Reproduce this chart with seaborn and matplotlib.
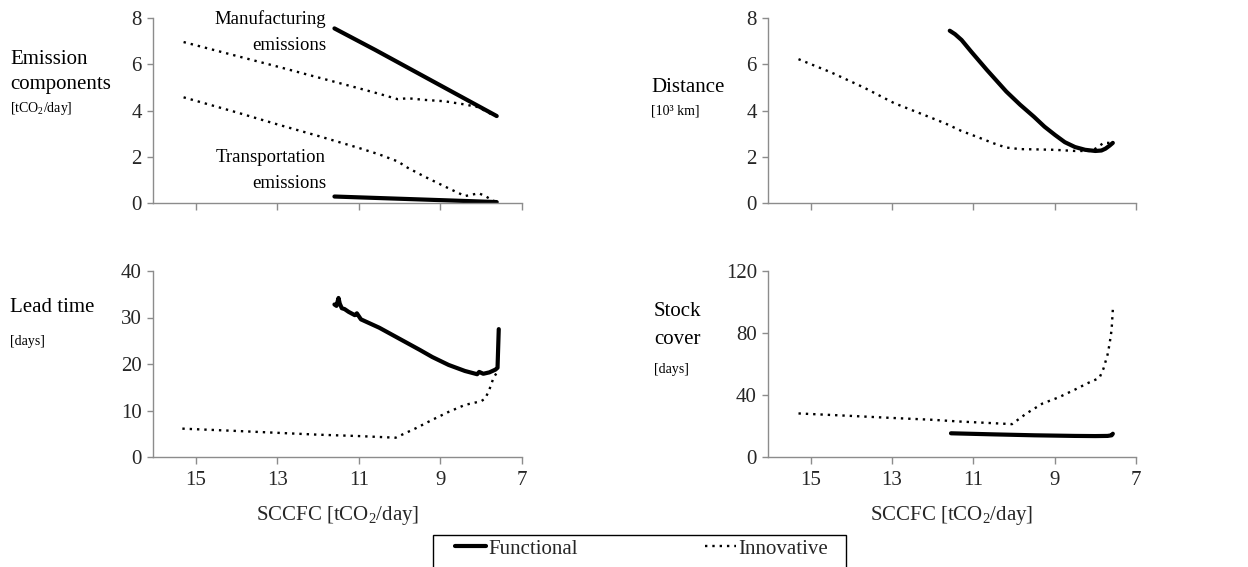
import matplotlib
matplotlib.use("Agg")
import matplotlib.pyplot as plt
import seaborn as sns
from matplotlib.lines import Line2D
from matplotlib.patches import Rectangle

# ---------------- data ----------------
# Emission components [tCO2/day]
func_em_x = [11.6, 10.6, 9.6, 8.6, 7.62]
func_manu = [7.55, 6.62, 5.66, 4.70, 3.76]
func_trans = [0.28, 0.22, 0.16, 0.10, 0.04]

innov_em_x = [15.3, 14.0, 13.0, 12.0, 11.0, 10.5, 10.05, 9.8, 9.4, 8.9, 8.4, 8.06, 7.9, 7.73, 7.62]
innov_manu = [6.96, 6.36, 5.90, 5.43, 4.96, 4.72, 4.49, 4.53, 4.46, 4.40, 4.26, 4.14, 3.98, 3.82, 3.75]
innov_trans = [4.57, 3.92, 3.40, 2.90, 2.38, 2.10, 1.80, 1.52, 1.15, 0.72, 0.30, 0.42, 0.30, 0.12, 0.04]

# Distance [10^3 km]
func_dist_x = [11.58, 11.45, 11.29, 11.05, 10.67, 10.19, 9.85, 9.51, 9.25, 8.99, 8.75, 8.5,
               8.25, 8.0, 7.85, 7.75, 7.65, 7.57]
func_dist = [7.45, 7.30, 7.05, 6.54, 5.76, 4.82, 4.25, 3.73, 3.30, 2.94, 2.63, 2.42,
             2.30, 2.25, 2.27, 2.35, 2.48, 2.60]
innov_dist_x = [15.3, 14.5, 13.7, 12.95, 12.2, 11.7, 11.3, 10.85, 10.5, 10.2, 9.85, 9.5, 9.0,
                8.5, 8.1, 7.95, 7.8, 7.65]
innov_dist = [6.22, 5.65, 5.00, 4.32, 3.80, 3.45, 3.12, 2.82, 2.58, 2.40, 2.33, 2.32, 2.30,
              2.25, 2.25, 2.40, 2.60, 2.60]

# Lead time [days]
func_lead_x = [11.6, 11.55, 11.5, 11.47, 11.42, 11.35, 11.25, 11.1, 11.05, 10.95, 10.8, 10.5,
               10.0, 9.5, 9.2, 8.8, 8.4, 8.1, 8.05, 7.95, 7.8, 7.65, 7.6, 7.57]
func_lead = [32.8, 32.5, 34.2, 33.0, 32.0, 31.8, 31.2, 30.5, 30.9, 29.6, 29.0, 27.8,
             25.4, 23.0, 21.5, 19.8, 18.5, 17.8, 18.3, 17.9, 18.2, 18.8, 19.2, 27.5]
innov_lead_x = [15.33, 14.0, 13.0, 12.0, 11.0, 10.1, 9.6, 9.2, 8.8, 8.4, 8.0, 7.9, 7.8, 7.7, 7.6]
innov_lead = [6.1, 5.6, 5.2, 4.8, 4.5, 4.15, 6.2, 8.0, 9.7, 11.2, 12.0, 12.6, 14.5, 17.0, 18.4]

# Stock cover [days]
func_stock_x = [11.55, 10.5, 9.5, 8.5, 8.0, 7.7, 7.6, 7.57]
func_stock = [15.3, 14.6, 14.0, 13.6, 13.5, 13.6, 14.0, 15.0]
innov_stock_x = [15.3, 14.0, 13.0, 12.0, 11.35, 10.5, 10.05, 9.7, 9.3, 8.9, 8.5, 8.2,
                 7.9, 7.8, 7.7, 7.65, 7.6, 7.57]
innov_stock = [28.1, 26.5, 25.2, 24.0, 22.9, 21.8, 21.2, 28.0, 34.5, 38.5, 43.5, 47.5,
               51.0, 57.0, 66.0, 73.0, 82.0, 95.0]

x_ticks = [15, 13, 11, 9, 7]
series_names = ["Functional", "Innovative"]

# ---------------- style ----------------
sns.set_theme(style="white")
plt.rcParams["font.family"] = ["Liberation Serif", "DejaVu Serif"]
plt.rcParams["mathtext.fontset"] = "custom"
plt.rcParams["mathtext.rm"] = "Liberation Serif"
plt.rcParams["mathtext.it"] = "Liberation Serif:italic"

W, H = 1248, 567
FS = 15
ANN = 13.5
SMALL = 10
AXC = "#8c8c8c"
SOLID = dict(color="black", lw=3.0, solid_capstyle="round", solid_joinstyle="round")
DOT = dict(color="black", lw=1.7, linestyle=(0, (1, 2.1)))

fig = plt.figure(figsize=(W / 100, H / 100), dpi=100)


def px_axes(l, t, r, b):
    return fig.add_axes([l / W, 1 - b / H, (r - l) / W, (b - t) / H])


def ftext(x, y, s, size=FS, ha="left"):
    fig.text(x / W, 1 - y / H, s, fontsize=size, ha=ha, va="center", color="black")


def style_axes(ax, yticks, show_xlabels):
    ax.set_xlim(16.05, 7)
    ax.set_ylim(yticks[0], yticks[-1])
    ax.set_xticks(x_ticks)
    ax.set_yticks(yticks)
    for s in ["top", "right"]:
        ax.spines[s].set_visible(False)
    for s in ["left", "bottom"]:
        ax.spines[s].set_color(AXC)
        ax.spines[s].set_linewidth(1.0)
    ax.tick_params(axis="x", direction="out", length=5, width=1, color=AXC,
                   labelsize=FS, pad=5, labelbottom=show_xlabels, bottom=True)
    ax.tick_params(axis="y", direction="out", length=4, width=1, color=AXC,
                   labelsize=FS, pad=4, left=True)
    ax.set_xlabel("")
    ax.set_ylabel("")
    ax.grid(False)


def line(ax, x, y, kw):
    sns.lineplot(x=x, y=y, ax=ax, estimator=None, sort=False, **kw)


ax1 = px_axes(153, 18, 522, 203)
ax2 = px_axes(768, 18, 1136, 203)
ax3 = px_axes(153, 271, 522, 457)
ax4 = px_axes(768, 271, 1136, 457)

line(ax1, innov_em_x, innov_manu, DOT)
line(ax1, innov_em_x, innov_trans, DOT)
line(ax1, func_em_x, func_manu, SOLID)
line(ax1, func_em_x, func_trans, SOLID)
style_axes(ax1, [0, 2, 4, 6, 8], False)

line(ax2, innov_dist_x, innov_dist, DOT)
line(ax2, func_dist_x, func_dist, SOLID)
style_axes(ax2, [0, 2, 4, 6, 8], False)

line(ax3, innov_lead_x, innov_lead, DOT)
line(ax3, func_lead_x, func_lead, SOLID)
style_axes(ax3, [0, 10, 20, 30, 40], True)

line(ax4, innov_stock_x, innov_stock, DOT)
line(ax4, func_stock_x, func_stock, SOLID)
style_axes(ax4, [0, 40, 80, 120], True)

for ax in (ax3, ax4):
    ax.set_xlabel("SCCFC [tCO$_2$/day]", fontsize=FS, labelpad=10)

# panel labels
ftext(10, 59, "Emission")
ftext(10, 85, "components")
ftext(10, 109, "[tCO$_2$/day]", SMALL)
ftext(651, 87, "Distance")
ftext(651, 111, "[10³ km]", SMALL)
ftext(10, 308, "Lead time")
ftext(10, 341, "[days]", SMALL)
ftext(654, 312, "Stock")
ftext(654, 339, "cover")
ftext(654, 369, "[days]", SMALL)

# annotations
ftext(326, 19, "Manufacturing", ANN, ha="right")
ftext(326, 45, "emissions", ANN, ha="right")
ftext(326, 158, "Transportation", ANN, ha="right")
ftext(326, 184, "emissions", ANN, ha="right")

# legend: entries spread across a wide box that runs past the bottom edge
handles = [Line2D([], [], **SOLID), Line2D([], [], **DOT)]
leg_l, leg_r, leg_t = 455, 828, 539
leg = fig.legend(handles, series_names, loc="upper left",
                 bbox_to_anchor=(leg_l / W, 1 - (leg_t + 20) / H, (leg_r - leg_l) / W, 20 / H),
                 mode="expand", ncol=2, frameon=False, fontsize=FS,
                 handlelength=1.5, handletextpad=0.1, borderpad=0, borderaxespad=0)
fig.patches.append(Rectangle((433 / W, -0.05), (846 - 433) / W, 0.05 + (1 - 535 / H),
                             transform=fig.transFigure, fill=False, edgecolor="black",
                             lw=1.0, clip_on=False))

fig.savefig("out.png", dpi=100)
